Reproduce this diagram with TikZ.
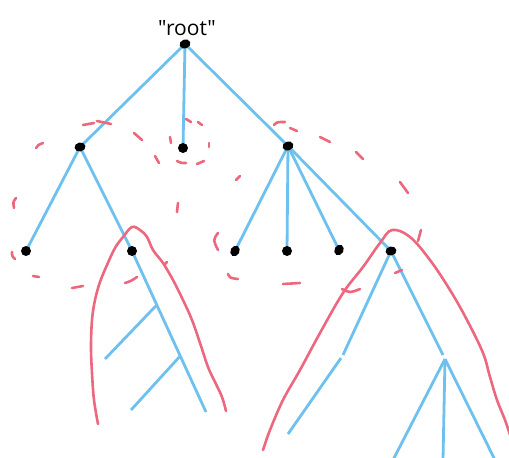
\documentclass[tikz,border=0pt]{standalone}
\usepackage{fontspec}
\newfontfamily\labelfont{Open Sans}
\usetikzlibrary{shapes.geometric,backgrounds,calc}
\definecolor{treeblue}{RGB}{110,193,238}
\definecolor{hullred}{RGB}{236,104,126}
\begin{document}
\begin{tikzpicture}[x=1pt,y=-1pt,
  dot/.style={ellipse,fill=black,inner sep=0pt,minimum width=11pt,minimum height=9pt},
  edge/.style={draw=treeblue,line width=2.8pt},
  hull/.style={draw=hullred,line width=2.6pt,line cap=round,line join=round},
  dsh/.style={draw=hullred,line width=2.6pt,line cap=round}]
\useasboundingbox (0,0) rectangle (509,458);

% labels
\node[anchor=base,font=\labelfont\fontsize{21}{24}\selectfont,inner sep=0pt] (rootlabel) at (187,35) {"root"};

% dots
\node[dot,rotate=20] (root) at (185,44) {};
\node[dot,rotate=10] (A) at (80,147) {};
\node[dot,minimum width=10pt,minimum height=10pt] (B) at (183,148) {};
\node[dot,rotate=20] (C) at (288,146) {};
\node[dot,minimum width=10pt,minimum height=10pt] (A1) at (26,251) {};
\node[dot,minimum width=10pt,minimum height=10pt] (A2) at (132,251) {};
\node[dot,rotate=60] (C1) at (235,251) {};
\node[dot,minimum width=10pt,minimum height=10pt] (C2) at (287,251) {};
\node[dot,rotate=60] (C3) at (339,250) {};
\node[dot,rotate=10] (C4) at (391,251) {};

% free ends
\coordinate (a2end) at (206,412);
\coordinate (p1) at ($(A2)!0.335!(a2end)$);
\coordinate (p2) at ($(A2)!0.652!(a2end)$);
\coordinate (q1) at (105,359);
\coordinate (q2) at (131,410);
\coordinate (k1) at (343,355);
\coordinate (k2) at (341,358);
\coordinate (k3) at (288,434);
\coordinate (m1) at (443,355);
\coordinate (m2) at (445,359);
\coordinate (n1) at (393,460);
\coordinate (n2) at (443,460);
\coordinate (n3) at (495,460);

\begin{scope}[on background layer]
\draw[edge] (root.center) -- (A.center);
\draw[edge] (root.center) -- (B.center);
\draw[edge] (root.center) -- (C.center);
\draw[edge] (A.center) -- (A1.center);
\draw[edge] (A.center) -- (A2.center) -- (a2end);
\draw[edge] (p1) -- (q1);
\draw[edge] (p2) -- (q2);
\draw[edge] (C.center) -- (C1.center);
\draw[edge] (C.center) -- (C2.center);
\draw[edge] (C.center) -- (C3.center);
\draw[edge] (C.center) -- (C4.center);
\draw[edge] (C4.center) -- (k1);
\draw[edge] (k2) -- (k3);
\draw[edge] (C4.center) -- (m1);
\draw[edge] (m2) -- (n1);
\draw[edge] (m2) -- (n2);
\draw[edge] (m2) -- (n3);
\end{scope}

% solid hulls
\draw[hull] plot[smooth,tension=0.6] coordinates {(98,424) (94,400) (92,373) (91,347) (92,320) (95,300) (100,282) (107,265) (115,248) (123,237) (132,227) (140,230) (147,237) (153,250) (163,263) (173,280) (183,300) (192,320) (200,343) (208,367) (215,382) (222,397) (226,411)};
\draw[hull] plot[smooth,tension=0.6] coordinates {(263,450) (270,430) (283,400) (300,370) (320,333) (343,293) (363,267) (380,243) (392,230) (410,237) (430,260) (450,290) (467,320) (483,353) (490,377) (497,400) (505,420) (511,438)};

% dashed hull around A
\draw[dsh] (16,198) .. controls (13,202) .. (14,208);
\draw[dsh] (36,148) .. controls (38,145) .. (43,143);
\draw[dsh] (83,125) -- (94,123);
\draw[dsh] (97,121) -- (111,124);
\draw[dsh] (134,133) -- (142,140);
\draw[dsh] (178,203) -- (177,212);
\draw[dsh] (167,262) -- (164,265);
\draw[dsh] (137,277) .. controls (131,281) .. (125,283);
\draw[dsh] (72,288) -- (83,286);
\draw[dsh] (33,276) -- (39,277);
\draw[dsh] (12,252) .. controls (12,256) .. (15,259);

% dashed hull around B
\draw[dsh] (155,156) -- (159,163);
\draw[dsh] (170,137) -- (171,143);
\draw[dsh] (186,119) -- (191,122);
\draw[dsh] (198,122) -- (202,125);
\draw[dsh] (209,143) -- (209,147);
\draw[dsh] (197,164) -- (204,161);
\draw[dsh] (177,161) .. controls (181,163) .. (186,163);

% dashed hull around C
\draw[dsh] (236,180) -- (240,176);
\draw[dsh] (274,125) .. controls (277,122) .. (285,122);
\draw[dsh] (290,128) -- (297,131);
\draw[dsh] (320,137) -- (330,142);
\draw[dsh] (356,152) -- (363,159);
\draw[dsh] (400,182) -- (408,193);
\draw[dsh] (421,230) -- (418,241);
\draw[dsh] (395,273) -- (402,270);
\draw[dsh] (342,289) .. controls (350,293) .. (360,289);
\draw[dsh] (283,284) -- (300,283);
\draw[dsh] (228,274) .. controls (230,278) .. (238,279);
\draw[dsh] (218,233) .. controls (213,240) .. (218,250);
\end{tikzpicture}
\end{document}
